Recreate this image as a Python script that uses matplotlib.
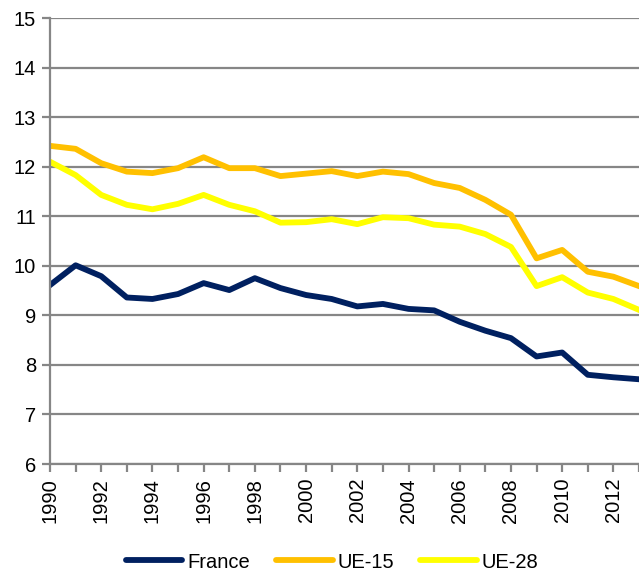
import numpy as np
import matplotlib.pyplot as plt
from matplotlib import font_manager

years = list(range(1990, 2014))
france = [9.61, 10.01, 9.79, 9.36, 9.33, 9.43, 9.65, 9.51, 9.75, 9.55, 9.41, 9.33,
          9.18, 9.23, 9.13, 9.10, 8.87, 8.69, 8.54, 8.17, 8.25, 7.80, 7.75, 7.71]
ue15 = [12.42, 12.36, 12.07, 11.90, 11.87, 11.97, 12.19, 11.97, 11.97, 11.81, 11.86, 11.91,
        11.81, 11.90, 11.85, 11.67, 11.57, 11.33, 11.03, 10.15, 10.32, 9.88, 9.78, 9.59]
ue28 = [12.10, 11.83, 11.43, 11.23, 11.14, 11.25, 11.43, 11.23, 11.10, 10.87, 10.88, 10.94,
        10.84, 10.98, 10.96, 10.83, 10.79, 10.64, 10.38, 9.59, 9.77, 9.46, 9.33, 9.11]

names = [f.name for f in font_manager.fontManager.ttflist]
family = 'Liberation Sans Narrow' if 'Liberation Sans Narrow' in names else 'Liberation Sans'
plt.rcParams['font.family'] = [family, 'DejaVu Sans']

fig = plt.figure(figsize=(6.39, 5.71), dpi=100)
ax = fig.add_axes([50/639, 1 - 464/571, 589/639, 446/571])

grid_col = '#868686'
ax.plot(years, france, color='#002060', lw=4.2, label='France')
ax.plot(years, ue15, color='#FFC000', lw=4.2, label='UE-15')
ax.plot(years, ue28, color='#FFFF00', lw=4.2, label='UE-28')

ax.set_xlim(1990, 2013)
ax.set_ylim(6, 15)
ax.set_yticks(range(6, 16))
ax.set_xticks(range(1990, 2014), minor=True)
ax.set_xticks(range(1990, 2013, 2))
ax.set_xticklabels([str(y) for y in range(1990, 2013, 2)], rotation=90)
ax.grid(axis='y', color=grid_col, lw=1.6)
ax.set_axisbelow(True)

for s in ['top', 'right']:
    ax.spines[s].set_visible(False)
for s in ['left', 'bottom']:
    ax.spines[s].set_color(grid_col)
    ax.spines[s].set_linewidth(1.6)

ax.tick_params(axis='y', which='major', length=6, width=1.6, color=grid_col,
               labelsize=14.5, pad=4)
ax.tick_params(axis='x', which='both', length=6, width=1.6, color=grid_col,
               labelsize=14.5, pad=4)

leg = fig.legend(loc='center', bbox_to_anchor=(0.52, 1 - 562/571), ncol=3, frameon=False,
                 fontsize=14.5, handlelength=2.8, columnspacing=1.3, handletextpad=0.25,
                 borderpad=0, borderaxespad=0)
for h in leg.get_lines():
    h.set_linewidth(4.2)
    h.set_solid_capstyle('round')

fig.savefig('out.png', dpi=100)
